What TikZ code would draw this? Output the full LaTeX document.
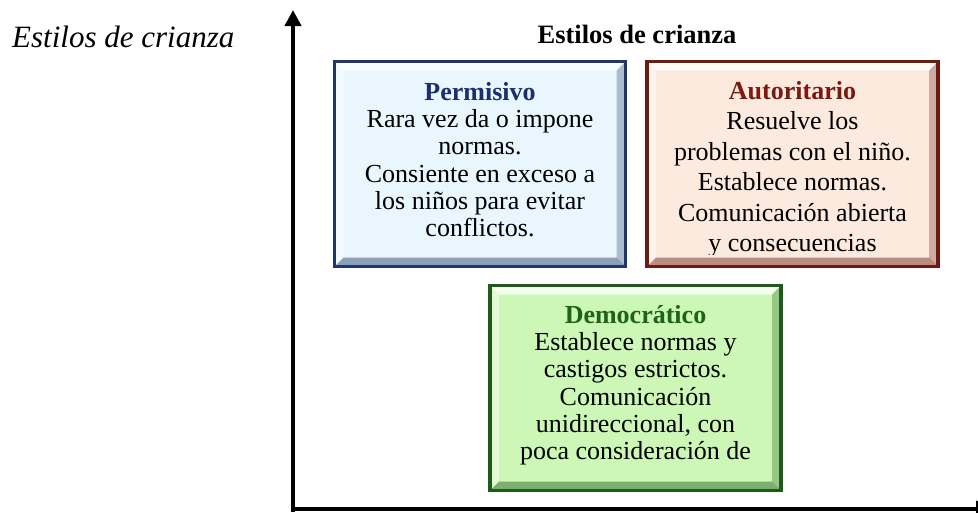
\documentclass[tikz,border=0pt]{standalone}
\usepackage{fontspec}
\setmainfont{Liberation Serif}
\usetikzlibrary{arrows.meta}
\definecolor{pfill}{HTML}{EAF6FD}
\definecolor{pborder}{HTML}{1F3864}
\definecolor{ptitle}{HTML}{1B2F6E}
\definecolor{afill}{HTML}{FCEADF}
\definecolor{aborder}{HTML}{6A1B12}
\definecolor{atitle}{HTML}{7A1A12}
\definecolor{dfill}{HTML}{CCF7B6}
\definecolor{dborder}{HTML}{1E5A18}
\definecolor{dtitle}{HTML}{1E6414}
\tikzset{
  bevbox/.style 2 args={draw=#2, fill=#1, line width=3.2pt,
    minimum width=291pt, minimum height=205pt, inner sep=0pt,
    path picture={
      \coordinate (bNW) at (path picture bounding box.north west);
      \coordinate (bNE) at (path picture bounding box.north east);
      \coordinate (bSE) at (path picture bounding box.south east);
      \coordinate (bSW) at (path picture bounding box.south west);
      \coordinate (iNW) at ([shift={(9pt,-9pt)}]bNW);
      \coordinate (iNE) at ([shift={(-9pt,-9pt)}]bNE);
      \coordinate (iSE) at ([shift={(-9pt,9pt)}]bSE);
      \coordinate (iSW) at ([shift={(9pt,9pt)}]bSW);
      \fill[white, opacity=0.8] (bNW) -- (bNE) -- (iNE) -- (iNW) -- cycle;
      \fill[white, opacity=0.45] (bNW) -- (iNW) -- (iSW) -- (bSW) -- cycle;
      \fill[#2, opacity=0.45] (bSW) -- (iSW) -- (iSE) -- (bSE) -- cycle;
      \fill[#2, opacity=0.3] (bNE) -- (bSE) -- (iSE) -- (iNE) -- cycle;
    }},
  boxtext/.style={font=\fontsize{26}{27.3}\selectfont, align=center,
    inner sep=0pt, anchor=north},
  axis/.style={line width=4.5pt, -{Triangle[width=16pt,length=16pt]}}
}
\begin{document}
\begin{tikzpicture}[x=1pt,y=-1pt]
\useasboundingbox (0,0) rectangle (978,512);
\clip (0,0) rectangle (978,512);
\fill[white] (0,0) rectangle (978,512);

% side label and title
\node[font=\fontsize{31}{34}\selectfont\itshape, anchor=base west, inner sep=0pt]
  (side) at (12,47) {Estilos de crianza};
\node[font=\fontsize{26.5}{30}\selectfont\bfseries, anchor=base, inner sep=0pt]
  (title) at (637,43) {Estilos de crianza};

% axes
\coordinate (yb) at (293,511.5);
\coordinate (ytop) at (293,10);
\coordinate (xa) at (291,509);
\coordinate (xend) at (992,509);
\draw[axis] (yb) -- (ytop);
\draw[axis] (xa) -- (xend);

% boxes
\node[bevbox={pfill}{pborder}] (perm) at (480,164) {};
\node[bevbox={afill}{aborder}] (auto) at (792.5,164) {};
\node[bevbox={dfill}{dborder}] (demo) at (635.5,388) {};

% texts
\node[boxtext] (permT) at (480,80.9)
  {\strut\textbf{\color{ptitle}Permisivo}\\Rara vez da o impone\\normas.\\Consiente en exceso a\\los niños para evitar\\conflictos.};
\begin{scope}
\clip (645,60) rectangle (940,254.5);
\node[boxtext, font=\fontsize{26}{30.5}\selectfont] (autoT) at (792.5,77.65)
  {\strut\textbf{\color{atitle}Autoritario}\\Resuelve los\\problemas con el niño.\\Establece normas.\\Comunicación abierta\\y consecuencias};
\end{scope}
\begin{scope}
\clip (488,284) rectangle (783,464.5);
\node[boxtext] (demoT) at (635.5,303.9)
  {\strut\textbf{\color{dtitle}Democrático}\\Establece normas y\\castigos estrictos.\\Comunicación\\unidireccional, con\\poca consideración de};
\end{scope}
\end{tikzpicture}
\end{document}
